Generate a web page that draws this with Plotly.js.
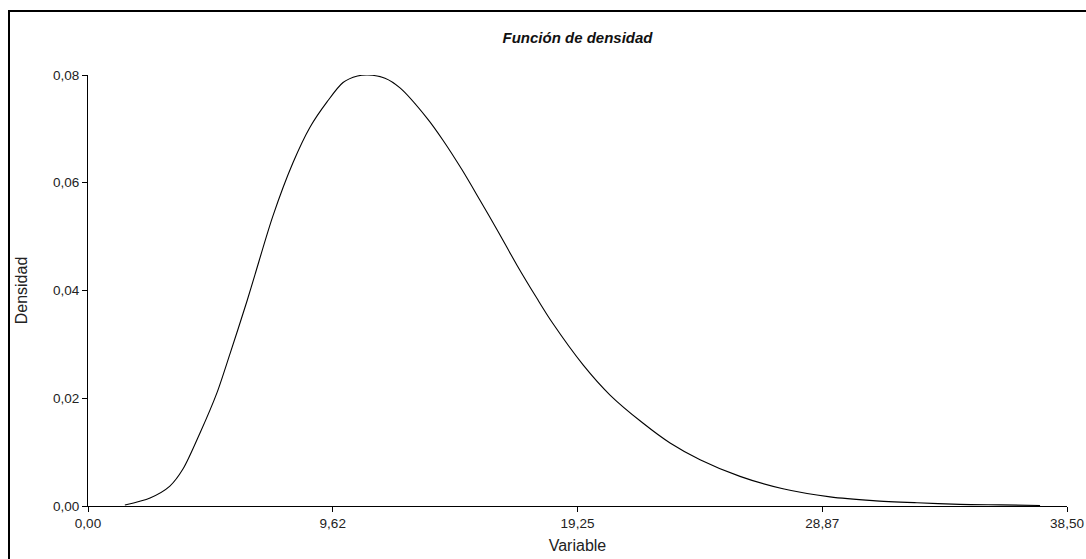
<!DOCTYPE html>
<html>
<head>
<meta charset="utf-8">
<script src="https://cdn.plot.ly/plotly-3.0.1.min.js"></script>
<style>
  html, body { margin: 0; padding: 0; background: #fff; overflow: hidden; }
  #chart { position: absolute; left: 0; top: 0; width: 1086px; height: 559px; }
  #frame { position: absolute; left: 8px; top: 10px; width: 2000px; height: 2000px;
           border-left: 2px solid #000; border-top: 2px solid #000; pointer-events: none; }
</style>
</head>
<body>
<div id="chart"></div>
<div id="frame"></div>
<script>
// Values
const variable = [1.45, 2.44, 3.22, 3.74, 4.40, 5.07, 5.58, 6.25, 6.57, 7.27, 8.06, 8.73, 9.40, 10.03,
  10.60, 11.00, 11.68, 12.27, 13.33, 13.96, 14.71, 15.41, 16.12, 16.87, 17.66, 18.25, 19.47, 20.53,
  21.82, 22.89, 24.07, 25.64, 27.33, 29.18, 30.87, 32.60, 34.29, 35.90, 37.44];
const densidad = [0.0002, 0.0015, 0.0037, 0.0069, 0.0135, 0.0210, 0.0282, 0.0380, 0.0430, 0.0538,
  0.0637, 0.0703, 0.0750, 0.0786, 0.0798, 0.0800, 0.0794, 0.0776, 0.0720, 0.0679, 0.0624, 0.0568,
  0.0510, 0.0447, 0.0385, 0.0341, 0.0262, 0.0206, 0.0154, 0.0117, 0.0086, 0.0055, 0.0032, 0.0017,
  0.0010, 0.0006, 0.0003, 0.0002, 0.0001];
const xTickVals = [0, 9.625, 19.25, 28.875, 38.5];
const xTickText = ["0,00", "9,62", "19,25", "28,87", "38,50"];
const yTickVals = [0, 0.02, 0.04, 0.06, 0.08];
const yTickText = ["0,00", "0,02", "0,04", "0,06", "0,08"];

const font = "Liberation Sans, Arial, sans-serif";
const trace = {
  x: variable, y: densidad, type: "scatter", mode: "lines",
  line: { color: "#000", width: 1.1, shape: "spline", smoothing: 0.8 },
  cliponaxis: false,
  hoverinfo: "skip"
};
const layout = {
  width: 1086, height: 559,
  margin: { l: 88, r: 19, t: 75, b: 53, pad: 0 },
  paper_bgcolor: "#fff", plot_bgcolor: "#fff",
  showlegend: false,
  font: { family: font, color: "#222", size: 13.5 },
  title: {
    text: "<b><i>Función de densidad</i></b>",
    font: { family: font, size: 15, color: "#111" },
    x: 0.5, xref: "paper", xanchor: "center",
    y: 1 - 38 / 559, yref: "container", yanchor: "middle"
  },
  xaxis: {
    range: [0, 38.5], tickmode: "array", tickvals: xTickVals, ticktext: xTickText,
    showgrid: false, zeroline: false, showline: true, linecolor: "#000", linewidth: 1,
    ticks: "outside", ticklen: 5, tickcolor: "#000", tickwidth: 1,
    tickfont: { family: font, size: 13.5, color: "#222" },
    title: { text: "Variable", font: { family: font, size: 16, color: "#222" }, standoff: 9 },
    fixedrange: true
  },
  yaxis: {
    range: [0, 0.08], tickmode: "array", tickvals: yTickVals, ticktext: yTickText,
    showgrid: false, zeroline: false, showline: true, linecolor: "#000", linewidth: 1,
    ticks: "outside", ticklen: 5, tickcolor: "#000", tickwidth: 1,
    tickfont: { family: font, size: 13.5, color: "#222" },
    title: { text: "Densidad", font: { family: font, size: 16, color: "#222" }, standoff: 21 },
    fixedrange: true
  }
};
Plotly.newPlot("chart", [trace], layout, { staticPlot: true, displayModeBar: false });
</script>
</body>
</html>
